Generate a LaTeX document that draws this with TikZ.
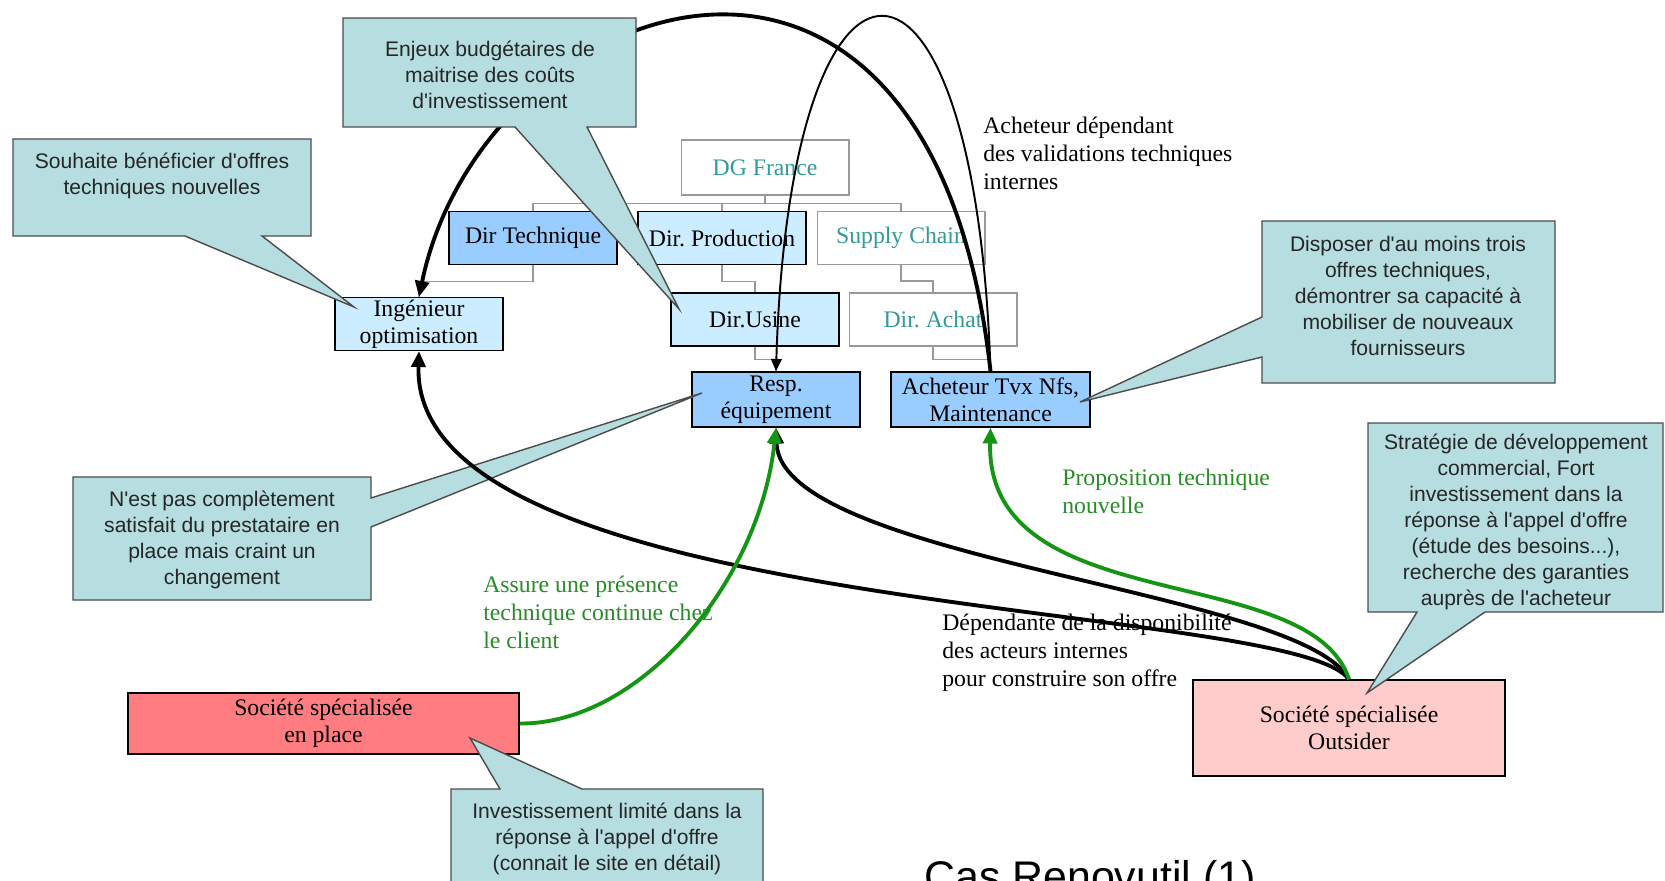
\documentclass[tikz,border=0pt]{standalone}
\usepackage{fontspec}
\setmainfont{Liberation Serif}
\setsansfont{Liberation Sans}
\usetikzlibrary{arrows.meta,calc}
\frenchspacing
\newcommand{\apo}{\textquotesingle}

\definecolor{bulleFond}{RGB}{182,221,224}
\definecolor{bleuFonce}{RGB}{153,204,255}
\definecolor{bleuClair}{RGB}{204,236,255}
\definecolor{rougeSoc}{RGB}{255,124,128}
\definecolor{roseSoc}{RGB}{255,204,204}
\definecolor{sarcelle}{RGB}{51,153,153}
\definecolor{vertFleche}{RGB}{20,150,20}
\definecolor{vertTxt}{RGB}{40,140,40}

\begin{document}
\begin{tikzpicture}[x=0.02cm,y=-0.02cm]
%stylesdesnœuds
\tikzstyle{orgBox}=[rectangle, draw=black, line width=0.8pt, minimum width=3.36cm, minimum height=1.06cm, inner sep=1pt, align=center, font=\fontsize{13.5}{15.5}\selectfont]
\tikzstyle{orgVide}=[orgBox, draw=gray!80, line width=0.6pt, fill=white, text=sarcelle]
\tikzstyle{orgLine}=[gray!80, line width=0.6pt]
\tikzstyle{bulleForme}=[fill=bulleFond, draw=black!70, line width=0.8pt]
\tikzstyle{bulleTxt}=[font=\sffamily\fontsize{12}{14.8}\selectfont, align=center, text=black!85, inner sep=0pt]
\tikzstyle{libre}=[font=\fontsize{13.5}{16}\selectfont, align=left, anchor=west, inner sep=0pt]
%cadre
\useasboundingbox (0,0) rectangle (1665,881);
\clip (0,0) rectangle (1665,881);
\fill[white] (0,0) rectangle (1665,881);
%organigramme
\node[orgVide, minimum height=1.1cm] (dg) at (765,167.5) {DG France};
\node[orgBox, fill=bleuFonce] (dirTech) at (533,238) {Dir Technique};
\node[orgBox, fill=bleuClair] (dirProd) at (722,238) {Dir. Production};
\node[orgVide] (supply) at (901,238) {Supply Chain};
\node[orgBox, fill=bleuClair] (ingOpt) at (419,324) {Ingénieur\\optimisation};
\node[orgBox, fill=bleuClair] (dirUsine) at (755,319.5) {Dir.Usine};
\node[orgVide] (dirAchat) at (933,319.5) {Dir. Achat};
\node[orgBox, fill=bleuFonce, minimum height=1.1cm] (respEq) at (776,399.5) {Resp.\\équipement};
\node[orgBox, fill=bleuFonce, minimum height=1.1cm, minimum width=3.98cm] (achTvx) at (990.5,399.5) {Acheteur Tvx Nfs,\\Maintenance};
\node[orgBox, fill=rougeSoc, minimum width=7.82cm, minimum height=1.22cm] (socPlace) at (323.5,723.5) {Société spécialisée\\en place};
\node[orgBox, fill=roseSoc, minimum width=6.24cm, minimum height=1.92cm] (socOutsider) at (1349,728) {Société spécialisée\\Outsider};

\draw[orgLine] (dg.south) -- ++(0,8) -| (dirTech.north);
\draw[orgLine] ($(dg.south)+(0,8)$) -| (dirProd.north);
\draw[orgLine] ($(dg.south)+(0,8)$) -| (supply.north);
\draw[orgLine] (dirTech.south) -- ++(0,16) -| (ingOpt.north);
\draw[orgLine] (dirProd.south) -- ++(0,16) -| (dirUsine.north);
\draw[orgLine] (supply.south) -- ++(0,16) -| (dirAchat.north);
\draw[orgLine] (dirUsine.south) -- ++(0,13) -| (respEq.north);
\draw[orgLine] (dirAchat.south) -- ++(0,13) -| (achTvx.north);

%textes
\node[libre] (txtAcheteur) at (983,153) {Acheteur dépendant\\des validations techniques\\internes};
\node[libre, text=vertTxt] (txtProposition) at (1062,491) {Proposition technique\\nouvelle};
\node[libre] (txtDependante) at (942,653) {Dépendante de la disponibilité\\des acteurs internes\\pour construire son offre};
\node[libre, text=vertTxt] (txtAssure) at (483,612) {Assure une présence\\technique continue chez\\le client};

%bulle sous les fleches
\draw[bulleForme] (73,477) -- (371,477) -- (371,498) -- (702,393) -- (371,527) -- (371,600) -- (73,600) -- cycle;
\node[bulleTxt] (bPrestataire) at (222,540) {N\apo est pas complètement\\satisfait du prestataire en\\place mais craint un\\changement};

%fleches
\tikzstyle{fleche}=[-{Triangle[length=9pt,width=8pt]}, line width=2.2pt]
\tikzstyle{flecheFine}=[-{Triangle[length=7pt,width=6pt]}, line width=1.1pt]
\tikzstyle{flecheVerte}=[fleche, vertFleche]
\draw[fleche] (achTvx.north) .. controls +(-60,-542) and +(63,-304) .. (ingOpt.north);
\draw[flecheFine] (achTvx.north) .. controls +(-15,-472) and +(14,-472) .. (respEq.north);
\draw[fleche] (socOutsider.north) .. controls +(-59,-80) and +(-9,269) .. (ingOpt.south);
\draw[fleche] (socOutsider.north) .. controls +(-49,-90) and +(4,133) .. (respEq.south);
\draw[flecheVerte] (socOutsider.north) .. controls +(-39,-120) and +(-5,193) .. (achTvx.south);
\draw[flecheVerte] (socPlace.east) .. controls +(121,1) and +(-16,153) .. (respEq.south);

%bulles
\draw[bulleForme] (13,139) -- (311,139) -- (311,236) -- (262,236) -- (354,307) -- (185,236) -- (13,236) -- cycle;
\node[bulleTxt] (bSouhaite) at (162,176) {Souhaite bénéficier d\apo offres\\techniques nouvelles};
\draw[bulleForme] (343,18) -- (636,18) -- (636,127) -- (587,127) -- (679,309) -- (515,127) -- (343,127) -- cycle;
\node[bulleTxt] (bEnjeux) at (490,75) {Enjeux budgétaires de\\maitrise des coûts\\d\apo investissement};
\draw[bulleForme] (1262,221) -- (1555,221) -- (1555,383) -- (1262,383) -- (1262,357) -- (1080,402) -- (1262,317) -- cycle;
\node[bulleTxt] (bDisposer) at (1408,296) {Disposer d\apo au moins trois\\offres techniques,\\démontrer sa capacité à\\mobiliser de nouveaux\\fournisseurs};
\draw[bulleForme] (1368,423) -- (1663,423) -- (1663,612) -- (1485,612) -- (1367,693) -- (1417,612) -- (1368,612) -- cycle;
\node[bulleTxt] (bStrategie) at (1516,522) {Stratégie de développement\\commercial, Fort\\investissement dans la\\réponse à l\apo appel d\apo offre\\(étude des besoins...),\\recherche des garanties\\auprès de l\apo acheteur};
\draw[bulleForme] (451,789) -- (500,789) -- (470,738) -- (582,789) -- (763,789) -- (763,890) -- (451,890) -- cycle;
\node[bulleTxt] (bInvest) at (607,839) {Investissement limité dans la\\réponse à l\apo appel d\apo offre\\(connait le site en détail)};

%titre
\node[font=\sffamily\fontsize{24.4}{28}\selectfont, anchor=base west, inner sep=0pt] (titre) at (924,891) {Cas Renovutil (1)};
\end{tikzpicture}
\end{document}
